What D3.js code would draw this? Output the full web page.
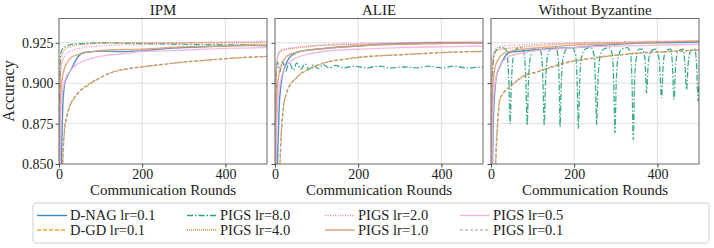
<!DOCTYPE html>
<html>
<head>
<meta charset="utf-8">
<script src="https://cdn.jsdelivr.net/npm/d3@7"></script>
<style>
  body { margin: 0; background: #fff; }
</style>
</head>
<body>
<svg width="714" height="248"></svg>
<script>
//
// data (round, accuracy)
//

var panels = ["IPM", "ALIE", "Without Byzantine"];
var methods = ["D-NAG lr=0.1", "D-GD lr=0.1", "PIGS lr=8.0", "PIGS lr=4.0",
               "PIGS lr=2.0", "PIGS lr=1.0", "PIGS lr=0.5", "PIGS lr=0.1"];
var xTicks = [0, 200, 400];
var yTicks = [0.850, 0.875, 0.900, 0.925];

// IPM
var ipm_dnag = [[0,0.1],[4,0.8],[6,0.85],[10,0.89],[14,0.9],[20,0.904],[30,0.909],[45,0.916],[58,0.9188],[80,0.9195],[100,0.9198],[150,0.9195],[200,0.92],[250,0.9212],[300,0.922],[350,0.9225],[400,0.923],[450,0.9235],[500,0.9233]];
var ipm_dgd = [[0,0.1],[6,0.82],[9,0.85],[13,0.87],[18,0.878],[25,0.885],[35,0.89],[50,0.895],[66,0.898],[90,0.902],[130,0.907],[170,0.909],[200,0.91],[250,0.9115],[300,0.913],[350,0.914],[400,0.9152],[450,0.916],[500,0.9165]];
var ipm_p8 = [[0,0.1],[2,0.9],[4,0.918],[8,0.921],[15,0.9225],[30,0.924],[60,0.9245],[100,0.925],[150,0.9248],[200,0.9245],[300,0.924],[400,0.9237],[500,0.9233]];
var ipm_p4 = [[0,0.1],[2,0.89],[4,0.912],[8,0.918],[15,0.921],[30,0.923],[60,0.924],[100,0.9248],[200,0.925],[300,0.925],[400,0.925],[500,0.9252]];
var ipm_p2 = [[0,0.1],[2,0.88],[4,0.905],[8,0.913],[15,0.917],[30,0.92],[60,0.922],[100,0.923],[200,0.924],[300,0.925],[400,0.9255],[500,0.926]];
var ipm_p1 = [[0,0.1],[2,0.86],[5,0.895],[10,0.906],[18,0.912],[30,0.916],[50,0.918],[80,0.9195],[120,0.9205],[200,0.921],[300,0.9225],[400,0.923],[500,0.9235]];
var ipm_p05 = [[0,0.1],[2,0.85],[5,0.885],[10,0.897],[20,0.905],[40,0.911],[74,0.915],[100,0.9166],[150,0.918],[195,0.9195],[250,0.92],[300,0.9205],[400,0.9215],[500,0.922]];
var ipm_p01 = [[0,0.1],[6,0.82],[9,0.851],[13,0.871],[18,0.879],[25,0.8855],[35,0.8905],[50,0.8952],[66,0.8985],[90,0.9022],[130,0.9068],[170,0.9092],[200,0.9102],[250,0.9117],[300,0.9131],[350,0.9142],[400,0.9151],[450,0.9159],[500,0.9166]];

// ALIE
var alie_dnag = [[0,0.1],[4,0.82],[7,0.86],[10,0.885],[14,0.898],[19,0.906],[25,0.911],[35,0.916],[45,0.918],[60,0.9195],[80,0.9205],[100,0.921],[150,0.9222],[200,0.923],[250,0.924],[300,0.9245],[400,0.925],[500,0.9248]];
var alie_dgd = [[0,0.1],[8,0.82],[12,0.85],[15,0.868],[20,0.884],[28,0.894],[36,0.899],[50,0.903],[60,0.9055],[84,0.909],[110,0.912],[132,0.9135],[170,0.915],[200,0.916],[250,0.917],[300,0.9176],[350,0.9183],[400,0.919],[450,0.9194],[500,0.9197]];
var alie_p8 = [[0,0.1],[3,0.905],[6,0.913],[12,0.907],[18,0.9135],[26,0.9075],[34,0.913],[44,0.908],[52,0.9125],[62,0.9085],[72,0.912],[82,0.9085],[92,0.9115],[104,0.909],[116,0.9115],[130,0.9095],[145,0.911],[165,0.9095],[190,0.9105],[220,0.9095],[250,0.9105],[280,0.9095],[310,0.91],[340,0.9095],[370,0.9105],[400,0.9095],[430,0.9105],[460,0.9095],[500,0.91]];
var alie_p4 = [[0,0.1],[2,0.89],[4,0.912],[8,0.918],[15,0.92],[30,0.921],[60,0.922],[100,0.923],[200,0.924],[300,0.9245],[400,0.925],[500,0.9252]];
var alie_p2 = [[0,0.1],[2,0.885],[4,0.91],[8,0.918],[15,0.9205],[30,0.9215],[60,0.9225],[100,0.9235],[200,0.9245],[300,0.925],[400,0.9255],[500,0.9258]];
var alie_p1 = [[0,0.1],[2,0.86],[5,0.895],[10,0.906],[18,0.913],[30,0.917],[50,0.919],[80,0.9205],[120,0.9215],[200,0.923],[300,0.924],[400,0.9245],[500,0.925]];
var alie_p05 = [[0,0.1],[2,0.84],[5,0.88],[10,0.896],[20,0.907],[40,0.914],[80,0.918],[150,0.9205],[200,0.921],[300,0.922],[400,0.9225],[500,0.923]];
var alie_p01 = [[0,0.1],[8,0.821],[12,0.851],[15,0.869],[20,0.8845],[28,0.8942],[36,0.8988],[50,0.9028],[60,0.9052],[84,0.9088],[110,0.9118],[132,0.9133],[170,0.9148],[200,0.9158],[250,0.9169],[300,0.9175],[350,0.9182],[400,0.9188],[450,0.9193],[500,0.9196]];

// Without Byzantine
var wb_dnag = [[0,0.1],[3,0.83],[6,0.88],[13,0.904],[21,0.91],[29,0.9145],[41,0.9186],[55,0.9195],[70,0.9198],[100,0.9205],[150,0.9215],[200,0.922],[250,0.923],[300,0.924],[400,0.925],[500,0.9255]];
var wb_dgd = [[0,0.1],[8,0.82],[12,0.855],[16,0.875],[21,0.8897],[30,0.894],[46,0.898],[78,0.9045],[110,0.907],[150,0.9105],[190,0.9134],[230,0.915],[270,0.9165],[310,0.9176],[350,0.9186],[390,0.9192],[430,0.9196],[470,0.9202],[500,0.9207]];
var wb_p8 = [[0,0.1],[3,0.9],[8,0.918],[15,0.921],[25,0.922],[35,0.921],[40,0.915],[43,0.9],[46,0.875],[49,0.9],[53,0.915],[60,0.921],[72,0.922],[80,0.918],[84,0.9],[87,0.874],[90,0.9],[94,0.915],[102,0.921],[114,0.922],[122,0.917],[125,0.9],[128,0.874],[131,0.9],[135,0.915],[143,0.921],[155,0.922],[161,0.917],[164,0.9],[166,0.873],[169,0.9],[173,0.915],[181,0.921],[195,0.922],[204,0.917],[207,0.9],[210,0.872],[213,0.9],[217,0.915],[226,0.921],[240,0.922],[248,0.917],[251,0.9],[254,0.874],[257,0.9],[261,0.915],[270,0.921],[284,0.922],[292,0.917],[295,0.9],[298,0.869],[301,0.9],[305,0.915],[314,0.921],[328,0.922],[336,0.917],[339,0.9],[342,0.865],[345,0.9],[349,0.915],[356,0.921],[364,0.921],[370,0.915],[374,0.894],[378,0.912],[384,0.92],[396,0.921],[404,0.915],[410,0.891],[414,0.912],[420,0.92],[432,0.921],[436,0.912],[440,0.89],[444,0.912],[450,0.92],[462,0.921],[466,0.912],[470,0.896],[474,0.912],[480,0.92],[490,0.921],[494,0.912],[498,0.889],[500,0.9]];
var wb_p4 = [[0,0.1],[2,0.89],[4,0.913],[8,0.918],[15,0.92],[30,0.9212],[60,0.922],[100,0.923],[200,0.9245],[300,0.925],[400,0.9255],[500,0.926]];
var wb_p2 = [[0,0.1],[2,0.9],[4,0.916],[8,0.92],[15,0.922],[30,0.923],[60,0.9235],[100,0.924],[200,0.925],[300,0.9255],[400,0.926],[500,0.9262]];
var wb_p1 = [[0,0.1],[2,0.87],[5,0.9],[10,0.91],[18,0.915],[30,0.9185],[50,0.92],[80,0.9212],[120,0.922],[200,0.9235],[300,0.9245],[400,0.9255],[500,0.926]];
var wb_p05 = [[0,0.1],[2,0.85],[5,0.885],[10,0.9],[20,0.91],[40,0.916],[80,0.919],[150,0.921],[200,0.922],[300,0.923],[400,0.9235],[500,0.924]];
var wb_p01 = [[0,0.1],[8,0.821],[12,0.856],[16,0.876],[21,0.8893],[30,0.8937],[46,0.8978],[78,0.9042],[110,0.9068],[150,0.9102],[190,0.9131],[230,0.9148],[270,0.9163],[310,0.9174],[350,0.9184],[390,0.919],[430,0.9195],[470,0.92],[500,0.9205]];

var seriesByPanel = [
  [ipm_dnag, ipm_dgd, ipm_p8, ipm_p4, ipm_p2, ipm_p1, ipm_p05, ipm_p01],
  [alie_dnag, alie_dgd, alie_p8, alie_p4, alie_p2, alie_p1, alie_p05, alie_p01],
  [wb_dnag, wb_dgd, wb_p8, wb_p4, wb_p2, wb_p1, wb_p05, wb_p01]
];

//
// styles per method
//

var colors = ["#3a87c8", "#f5a030", "#27a37c", "#e8843c", "#de7fc0", "#dea070", "#f4b2da", "#9a9a9a"];
var dashes = [null, "4,2", "6,2,1.5,2", "1,1", "1,1.5", null, null, "3,2"];
var widths = [1.4, 1.4, 1.3, 1.3, 1.3, 1.4, 1.4, 1.2];
var serif = "Liberation Serif";

//
// layout
//

var svg = d3.select("svg");
var top_ = 18.5, bottom = 164, pw = 208, gap = 8, left = 59;

var y = d3.scaleLinear().domain([0.85, 0.94]).range([bottom, top_]);

panels.forEach(function(name, p) {
  var x0 = left + p * (pw + gap);
  var x = d3.scaleLinear().domain([0, 500]).range([x0, x0 + pw]);

  var g = svg.append("g");

  // grid
  g.selectAll(".gx").data(xTicks.slice(1)).join("line")
    .attr("x1", d => x(d)).attr("x2", d => x(d))
    .attr("y1", top_).attr("y2", bottom)
    .attr("stroke", "#dcdcdc").attr("stroke-width", 0.9);
  g.selectAll(".gy").data(yTicks.slice(1)).join("line")
    .attr("y1", d => y(d)).attr("y2", d => y(d))
    .attr("x1", x0).attr("x2", x0 + pw)
    .attr("stroke", "#dcdcdc").attr("stroke-width", 0.9);

  // clip
  svg.append("clipPath").attr("id", "clip" + p)
    .append("rect").attr("x", x0).attr("y", top_).attr("width", pw).attr("height", bottom - top_);

  var line = d3.line()
    .x(d => x(d[0]))
    .y(d => y(d[1]))
    .curve(d3.curveMonotoneX);

  var lines = g.append("g").attr("clip-path", "url(#clip" + p + ")");
  seriesByPanel[p].forEach(function(data, i) {
    lines.append("path")
      .datum(data)
      .attr("fill", "none")
      .attr("stroke", colors[i])
      .attr("stroke-width", widths[i])
      .attr("stroke-dasharray", dashes[i])
      .attr("stroke-opacity", 0.9)
      .attr("d", line);
  });

  // axes
  var xAxis = d3.axisBottom(x).tickValues(xTicks).tickSize(3.5).tickPadding(2).tickFormat(d3.format("d"));
  var yAxis = d3.axisLeft(y).tickValues(yTicks).tickSize(3.5).tickPadding(2)
    .tickFormat(p == 0 ? d3.format(".3f") : "");

  var gx = g.append("g").attr("transform", "translate(0," + bottom + ")").call(xAxis);
  var gy = g.append("g").attr("transform", "translate(" + x0 + ",0)").call(yAxis);
  [gx, gy].forEach(function(a) {
    a.attr("font-family", serif).attr("font-size", 14);
    a.select(".domain").remove();
    a.selectAll("line").attr("stroke", "#444");
    a.selectAll("text").attr("fill", "#222");
  });

  // frame
  g.append("rect")
    .attr("x", x0).attr("y", top_).attr("width", pw).attr("height", bottom - top_)
    .attr("fill", "none").attr("stroke", "#666").attr("stroke-width", 1);

  // title and x label
  g.append("text").attr("x", x0 + pw / 2).attr("y", 15)
    .attr("text-anchor", "middle").attr("font-size", 15).attr("font-family", serif).attr("fill", "#222")
    .text(name);
  g.append("text").attr("x", x0 + pw / 2).attr("y", 195)
    .attr("text-anchor", "middle").attr("font-size", 15).attr("font-family", serif).attr("fill", "#222")
    .text("Communication Rounds");
});

svg.append("text")
  .attr("transform", "translate(14,91) rotate(-90)")
  .attr("text-anchor", "middle").attr("font-size", 16).attr("font-family", serif).attr("fill", "#222")
  .text("Accuracy");

//
// legend
//

svg.append("rect")
  .attr("x", 33).attr("y", 203).attr("width", 676).attr("height", 40)
  .attr("rx", 3).attr("fill", "#fff").attr("stroke", "#d0d0d0").attr("stroke-width", 1);

var colX = [37, 187, 325, 460, 597];
var rowY = [215.5, 230];

methods.forEach(function(m, i) {
  var cx = colX[Math.floor(i / 2)], cy = rowY[i % 2];
  svg.append("line")
    .attr("x1", cx).attr("x2", cx + 30).attr("y1", cy).attr("y2", cy)
    .attr("stroke", colors[i]).attr("stroke-width", widths[i])
    .attr("stroke-dasharray", dashes[i]);
  svg.append("text")
    .attr("x", cx + 33).attr("y", cy + 4.5)
    .attr("font-size", 14.5).attr("font-family", serif).attr("fill", "#222")
    .text(m);
});
</script>
</body>
</html>
